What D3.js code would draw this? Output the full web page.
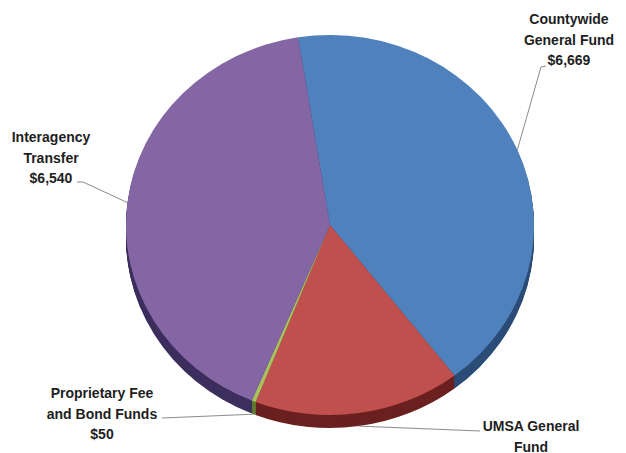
<!DOCTYPE html>
<html>
<head>
<meta charset="utf-8">
<script src="https://cdn.jsdelivr.net/npm/d3@7/dist/d3.min.js"></script>
<style>
  html, body { margin: 0; padding: 0; background: #ffffff; }
  svg { display: block; }
  .lbl { font-family: "Liberation Sans", Arial, sans-serif; font-weight: bold; font-size: 14px; fill: #1e1e1e; }
</style>
</head>
<body>
<svg id="chart" width="626" height="453"></svg>
<script>
// Funding sources (in thousands), listed clockwise from the top of the pie
const categories = ["Countywide General Fund", "UMSA General Fund", "Proprietary Fee and Bond Funds", "Interagency Transfer"];
const values = [6669, 2600, 50, 6540];
const labelLines = [["Countywide", "General Fund"], ["UMSA General", "Fund"], ["Proprietary Fee", "and Bond Funds"], ["Interagency", "Transfer"]];
// whether the dollar amount line is printed under the name
const showValue = [true, false, true, true];
const topColors = ["#4f81bd", "#c0504d", "#a9c25f", "#8466a4"];
const sideColors = ["#2c4d78", "#6b2120", "#5f7a2c", "#3d2f5e"];

const W = 626, H = 453;
const cx = 330, cy = 225, rx = 204, ry = 190, depth = 13;
const startDeg = -9;

const svg = d3.select("#chart");
const fmt = v => "$" + d3.format(",")(v);

const pie = d3.pie().sort(null)
  .startAngle(startDeg * Math.PI / 180)
  .endAngle((startDeg + 360) * Math.PI / 180);
const arcs = pie(values);
const arc = d3.arc().innerRadius(0).outerRadius(rx);
const yScale = ry / rx;

// Side walls: stacked copies of the pie in darker tones
for (let k = depth; k >= 1; k--) {
  svg.append("g")
    .attr("transform", `translate(${cx},${cy + k}) scale(1,${yScale})`)
    .selectAll("path")
    .data(arcs)
    .join("path")
    .attr("d", arc)
    .attr("fill", (d, i) => sideColors[i]);
}

// Top face
svg.append("g")
  .attr("transform", `translate(${cx},${cy}) scale(1,${yScale})`)
  .selectAll("path")
  .data(arcs)
  .join("path")
  .attr("d", arc)
  .attr("fill", (d, i) => topColors[i]);

// Point on the rim at a slice's mid angle (lower edge for front-facing slices)
function rimPoint(d) {
  const a = (d.startAngle + d.endAngle) / 2;
  const x = cx + rx * Math.sin(a);
  let y = cy - ry * Math.cos(a);
  if (Math.cos(a) < 0) y += depth;
  return [x, y];
}

// Label placement: centre x, first baseline, and where the leader line meets the text
const labelPos = [
  { x: 569, y: 24, anchor: [[546, 66], [541, 67]] },
  { x: 531, y: 431, anchor: [[480, 431]] },
  { x: 102, y: 398, anchor: [[162, 418]] },
  { x: 51, y: 142, anchor: [[77, 182], [83, 182]] }
];
const lineGap = 20.5;

const line = d3.line();
svg.append("g")
  .selectAll("path")
  .data(arcs)
  .join("path")
  .attr("d", (d, i) => line([...labelPos[i].anchor, rimPoint(d)]))
  .attr("fill", "none")
  .attr("stroke", "#8c8c8c")
  .attr("stroke-width", 1);

const labels = svg.append("g");
arcs.forEach((d, i) => {
  const lines = showValue[i] ? [...labelLines[i], fmt(values[i])] : labelLines[i];
  const t = labels.append("text")
    .attr("class", "lbl")
    .attr("text-anchor", "middle")
    .attr("x", labelPos[i].x)
    .attr("y", labelPos[i].y);
  lines.forEach((s, j) => {
    t.append("tspan")
      .attr("x", labelPos[i].x)
      .attr("y", labelPos[i].y + j * lineGap)
      .text(s);
  });
});
</script>
</body>
</html>
